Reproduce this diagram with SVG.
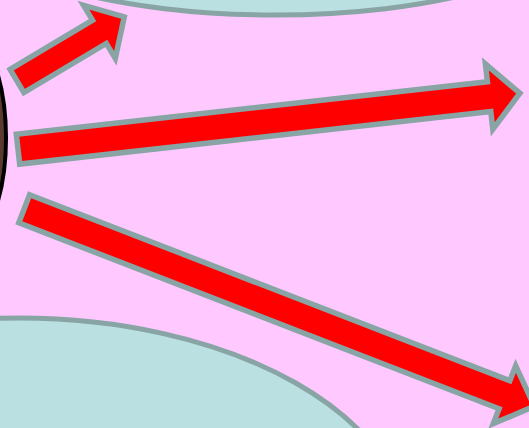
<svg xmlns="http://www.w3.org/2000/svg" width="529" height="428" viewBox="0 0 529 428">
<style>
.node{fill:#BAE0E2;stroke:#88A4A4;stroke-width:5}
.dark{fill:#5A3A2E;stroke:#000;stroke-width:4}
.arrow{fill:#FF0000;stroke:#88A4A4;stroke-width:5.5;stroke-linejoin:miter;stroke-miterlimit:10}
</style>
<rect x="0" y="0" width="529" height="428" fill="#FFC8FF"/>
<g id="node-top"><ellipse class="node" cx="275" cy="-75" rx="300" ry="90"/></g>
<g id="node-bottom"><ellipse class="node" cx="20" cy="540" rx="390" ry="222"/></g>
<g id="node-left"><ellipse class="dark" cx="-44" cy="138" rx="50" ry="115"/></g>
<g id="connectors">
<polygon class="arrow" points="10.1,69.4 92.5,20.2 83.5,5.2 124.3,16.9 115.3,58.4 106.3,43.4 23.9,92.6"/>
<polygon class="arrow" points="16.3,134.3 487.4,81.7 485.4,63.8 519.9,93.2 492.8,129.4 490.8,111.5 19.7,164.1"/>
<polygon class="arrow" points="29.6,194.8 509.9,380.7 515.7,365.8 534.3,406.3 493.3,423.6 499.1,408.7 18.8,222.8"/>
</g>
</svg>
